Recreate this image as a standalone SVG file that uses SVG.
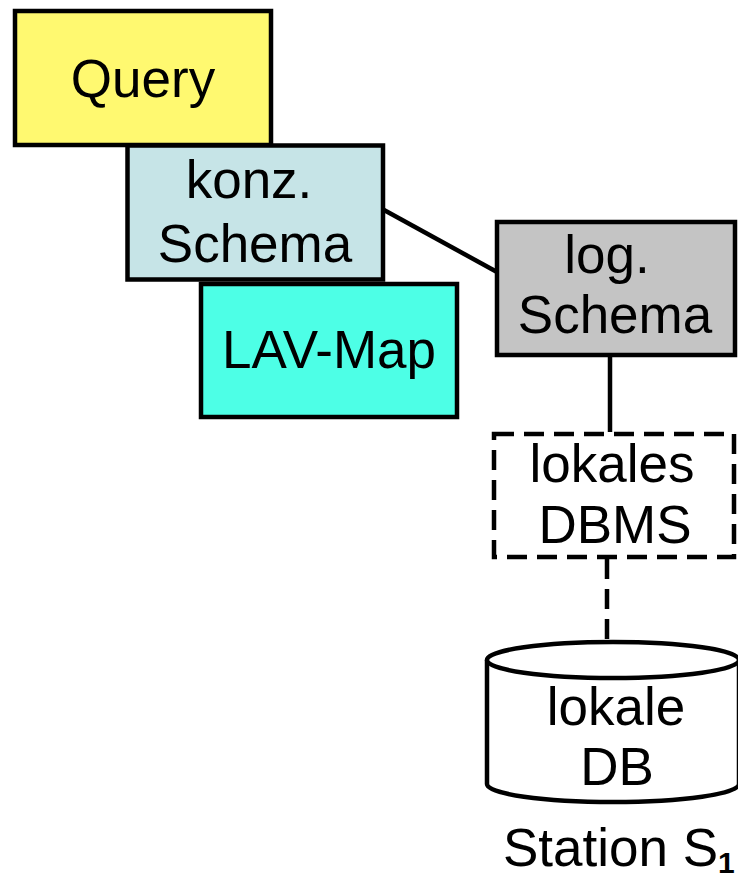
<svg xmlns="http://www.w3.org/2000/svg" width="738" height="882" viewBox="0 0 738 882">
  <style>
    .box { stroke: #000; stroke-width: 4.5; }
    .lbl { font-family: "Liberation Sans", Arial, sans-serif; font-size: 53px; fill: #000; text-anchor: middle; }
    .conn { stroke: #000; stroke-width: 4.5; fill: none; }
    .dash { stroke-dasharray: 20 10; }
  </style>
  <rect width="738" height="882" fill="#fff"/>

  <!-- connectors -->
  <g id="connectors">
    <line class="conn" x1="384" y1="210" x2="497" y2="272"/>
    <line class="conn" x1="610" y1="355" x2="610" y2="432"/>
    <line class="conn dash" x1="607" y1="559" x2="607" y2="642"/>
  </g>

  <g id="query">
    <rect class="box" x="15" y="11" width="256" height="134" fill="#FFF970"/>
    <text class="lbl" x="143" y="97">Query</text>
  </g>

  <g id="konz-schema">
    <rect class="box" x="127.5" y="145.5" width="255.5" height="134" fill="#C6E4E7"/>
    <text class="lbl" x="249" y="198">konz.</text>
    <text class="lbl" x="255" y="262">Schema</text>
  </g>

  <g id="lav-map">
    <rect class="box" x="201" y="284" width="256" height="133" fill="#4DFFE6"/>
    <text class="lbl" x="329" y="368">LAV-Map</text>
  </g>

  <g id="log-schema">
    <rect class="box" x="497" y="222" width="238" height="133" fill="#C4C4C4"/>
    <text class="lbl" x="607" y="273">log.</text>
    <text class="lbl" x="615" y="333">Schema</text>
  </g>

  <g id="lokales-dbms">
    <rect class="box dash" x="494" y="434" width="240" height="123" fill="none"/>
    <text class="lbl" x="612" y="482">lokales</text>
    <text class="lbl" x="615" y="543">DBMS</text>
  </g>

  <g id="lokale-db">
    <path class="box" fill="#fff" d="M487,660 L487,784 A126,18 0 0 0 739,784 L739,660"/>
    <ellipse class="box" cx="613" cy="660" rx="126" ry="18" fill="#fff"/>
    <text class="lbl" x="616" y="725">lokale</text>
    <text class="lbl" x="617" y="785">DB</text>
  </g>

  <g id="station">
    <text class="lbl" x="503" y="866" style="text-anchor:start">Station S<tspan font-size="30" font-weight="bold" dy="7">1</tspan></text>
  </g>
</svg>
